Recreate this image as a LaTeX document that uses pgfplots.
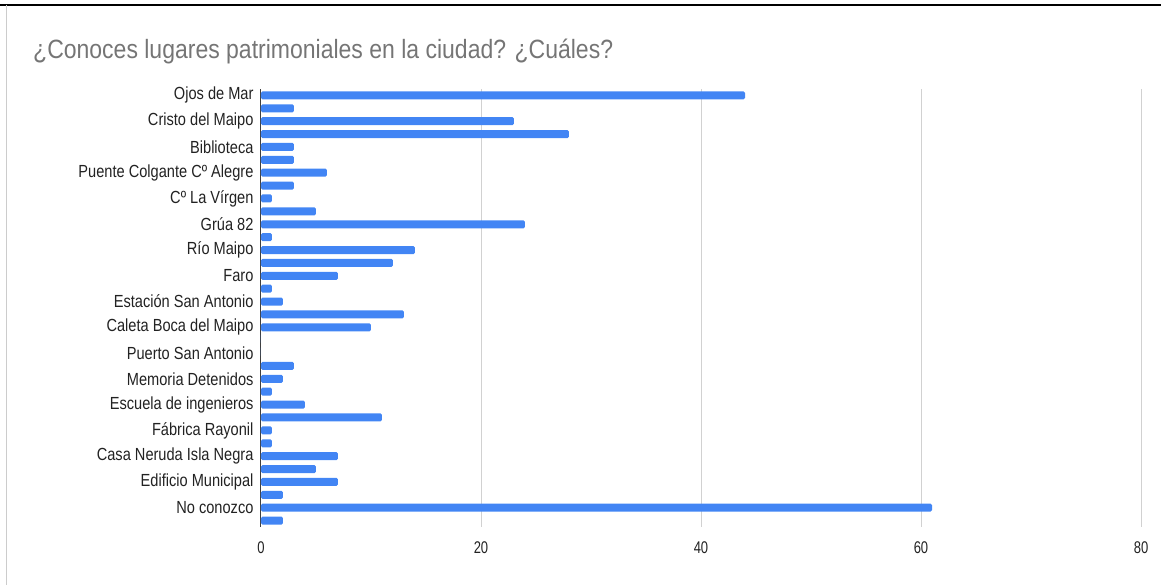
\documentclass[border=0pt]{standalone}
\usepackage{pgfplots}
\pgfplotsset{compat=1.18}
\usepackage{fontspec}
\setmainfont{Liberation Sans}
\definecolor{barblue}{HTML}{4285F4}
\definecolor{titlegray}{HTML}{757575}
\definecolor{labelgray}{HTML}{222222}
\newcommand{\vs}[1]{\scalebox{1}[1.2]{#1}}
\begin{document}
\begin{tikzpicture}
\useasboundingbox (-261pt,-58pt) rectangle (900pt,527pt);
\draw[black, line width=1.6pt] (-261pt,522pt) -- (900pt,522pt);
\draw[black!20, line width=1pt] (-254pt,522pt) -- (-254pt,-58pt);
\node[anchor=west, text=titlegray, font=\fontsize{23}{26}\selectfont, inner sep=0pt] at (-228pt,475pt) {\scalebox{1}[1.15]{¿Conoces lugares patrimoniales en la ciudad? ¿Cuáles?}};
\begin{axis}[
  at={(0,0)}, anchor=south west,
  scale only axis, width=880pt, height=438pt,
  xmin=0, xmax=80, ymin=-33.5, ymax=0.5,
  xbar, bar width=8pt, bar shift=0pt,
  axis line style={draw=none},
  xtick={20,40,60,80},
  extra x ticks={0},
  extra x tick style={grid style={black!75, line width=1pt}},
  xmajorgrids, grid style={black!18, line width=0.8pt},
  major tick length=0pt,
  ytick={0,-2,...,-32},
  yticklabels={\vs{Ojos de Mar}, \vs{Cristo del Maipo}, \vs{Biblioteca}, \vs{Puente Colgante Cº Alegre}, \vs{Cº La Vírgen}, \vs{Grúa 82}, \vs{Río Maipo}, \vs{Faro}, \vs{Estación San Antonio}, \vs{Caleta Boca del Maipo}, \vs{Puerto San Antonio}, \vs{Memoria Detenidos}, \vs{Escuela de ingenieros}, \vs{Fábrica Rayonil}, \vs{Casa Neruda Isla Negra}, \vs{Edificio Municipal}, \vs{No conozco}},
  yticklabel style={font=\fontsize{14.6}{16}\selectfont, text=labelgray, xshift=-4pt},
  xticklabel={\scalebox{1}[1.3]{\pgfmathprintnumber{\tick}}},
  xticklabel style={font=\fontsize{13}{15}\selectfont, text=labelgray, inner sep=0pt, yshift=-15pt},
  /pgf/number format/assume math mode=true,
  clip=false,
]
\addplot[fill=barblue, draw=none, rounded corners=1.5pt] coordinates {
(44,0) (3,-1) (23,-2) (28,-3) (3,-4) (3,-5) (6,-6) (3,-7) (1,-8) (5,-9)
(24,-10) (1,-11) (14,-12) (12,-13) (7,-14) (1,-15) (2,-16) (13,-17) (10,-18) (0,-19)
(0,-20) (3,-21) (2,-22) (1,-23) (4,-24) (11,-25) (1,-26) (1,-27) (7,-28) (5,-29)
(7,-30) (2,-31) (61,-32) (2,-33)
};
\end{axis}
\end{tikzpicture}
\end{document}
